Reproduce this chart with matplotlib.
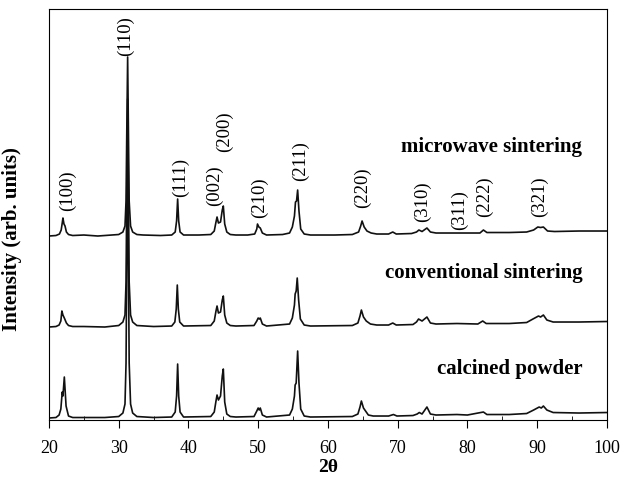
import matplotlib
matplotlib.use("Agg")
import matplotlib.pyplot as plt
from matplotlib.ticker import MultipleLocator

plt.rcParams["font.family"] = ["Liberation Serif", "DejaVu Serif"]

# 2-theta / intensity pairs (intensity above each pattern's own baseline)
micro_2t = [20.0, 21.0, 21.5, 21.75, 21.9, 22.0, 22.15, 22.3, 22.5, 22.8, 23.4, 25.0, 27.0, 29.0, 30.0,
            30.6, 30.9, 31.05, 31.15, 31.28, 31.4, 31.5, 31.7, 32.0, 32.6, 33.5, 36.0, 37.6, 38.1, 38.3,
            38.45, 38.6, 38.8, 39.3, 41.5, 43.2, 43.7, 43.95, 44.1, 44.3, 44.6, 44.85, 45.0, 45.2, 45.5,
            46.0, 46.8, 48.5, 49.5, 49.8, 49.9, 50.1, 50.3, 50.6, 51.2, 53.5, 54.5, 54.9, 55.2, 55.35,
            55.5, 55.66, 55.85, 56.1, 56.6, 57.5, 61.0, 63.5, 64.4, 64.7, 64.9, 65.2, 65.6, 66.2, 67.0,
            68.7, 69.3, 69.8, 72.0, 72.7, 73.05, 73.5, 74.2, 74.7, 75.5, 78.5, 80.5, 81.8, 82.3, 82.8,
            86.0, 88.5, 89.5, 90.1, 90.5, 90.9, 91.5, 92.5, 96.0, 100.0]
micro_int = [0, 0.5, 2, 6, 13, 18, 12, 10, 4, 1.5, 0.5, 1, 0, 1, 1.5,
             4, 10, 35, 100, 179, 100, 35, 10, 4, 1.5, 1, 0.5, 1, 4, 15,
             37, 15, 4, 1, 1, 1.5, 5, 14, 19, 13, 14, 26, 30, 12, 4,
             1.5, 1, 1, 2, 7, 12, 9, 8, 3, 1, 1.5, 3, 9, 20, 34,
             35, 46, 25, 7, 2, 1, 1, 1.5, 4, 10, 15, 9, 5, 3, 2,
             2, 4, 2, 2.5, 4, 6, 4.5, 8, 4, 3, 3, 3, 3, 6, 3.5,
             3.5, 4, 6, 9, 8.5, 9, 5, 4.5, 5, 5]

conv_2t = [20.0, 21.0, 21.45, 21.7, 21.85, 22.0, 22.2, 22.5, 22.8, 23.4, 25.0, 28.0, 30.0, 30.6, 30.9,
           31.05, 31.15, 31.28, 31.4, 31.5, 31.7, 32.0, 32.6, 35.0, 37.6, 38.05, 38.25, 38.4, 38.55,
           38.75, 39.3, 43.2, 43.7, 43.95, 44.1, 44.3, 44.6, 44.85, 45.0, 45.2, 45.5, 46.0, 46.8, 49.4,
           49.8, 50.0, 50.15, 50.3, 50.6, 51.2, 54.5, 54.9, 55.2, 55.3, 55.45, 55.6, 55.8, 56.05, 56.6,
           57.5, 63.5, 64.3, 64.6, 64.8, 65.1, 65.5, 66.1, 67.0, 68.7, 69.3, 69.8, 72.2, 72.7, 73.0,
           73.5, 74.2, 74.7, 75.5, 78.5, 81.5, 82.2, 82.7, 86.0, 88.5, 89.4, 90.2, 90.5, 90.9, 91.4,
           92.3, 96.0, 100.0]
conv_int = [0, 0.5, 2, 6, 16, 12, 9, 4, 1.5, 0.5, 0.5, 0, 1.5, 5, 12,
            45, 130, 228, 130, 45, 12, 5, 1.5, 0.5, 1, 5, 18, 42, 18,
            5, 1, 1.5, 6, 16, 21, 14, 15, 27, 31, 12, 4, 1.5, 1, 1.5,
            6, 9, 8, 9, 3, 1, 3, 9, 22, 33, 36, 49, 27, 8, 2,
            1, 1.5, 4, 11, 17, 10, 6, 3, 2, 2, 4, 2, 2.5, 5, 8,
            6, 10, 4, 3, 3.5, 3, 6, 3.5, 3.5, 4.5, 8, 11, 10, 12, 7,
            5, 5, 5.5]

calc_2t = [20.0, 21.0, 21.45, 21.7, 21.9, 22.0, 22.2, 22.45, 22.8, 23.4, 25.0, 28.0, 30.0, 30.6, 30.9,
           31.05, 31.15, 31.28, 31.4, 31.5, 31.7, 32.0, 32.6, 35.0, 37.6, 38.1, 38.3, 38.45, 38.6,
           38.8, 39.3, 43.2, 43.7, 43.95, 44.1, 44.3, 44.6, 44.85, 45.0, 45.2, 45.5, 46.0, 46.8, 49.4,
           49.8, 50.0, 50.15, 50.3, 50.6, 51.2, 54.5, 54.9, 55.2, 55.3, 55.45, 55.66, 55.85, 56.1, 56.6,
           57.5, 63.5, 64.3, 64.6, 64.8, 65.1, 65.4, 65.8, 66.5, 68.7, 69.4, 69.9, 72.2, 72.8, 73.1,
           73.5, 74.2, 74.7, 75.5, 78.5, 80.0, 82.3, 82.8, 86.0, 88.5, 89.5, 90.3, 90.6, 90.9, 91.4,
           92.3, 96.0, 100.0]
calc_int = [0, 0.5, 3, 9, 26, 22, 41, 12, 2, 0.5, 0.5, 0.5, 1.5, 5, 14,
            55, 150, 267, 150, 55, 14, 5, 1.5, 0.5, 1, 6, 22, 54, 22,
            6, 1, 1.5, 6, 17, 23, 18, 22, 42, 49, 16, 4, 1.5, 1, 1.5,
            7, 10, 8, 10, 3, 1, 3, 9, 22, 33, 35, 67, 35, 9, 2,
            1, 1.5, 4, 11, 17, 10, 7, 3, 2, 2, 3.5, 2, 2.5, 4, 5.5,
            4, 11, 4, 3, 3.5, 3, 6, 3.5, 3.5, 4.5, 8, 11, 10, 12, 8,
            5.5, 5, 5.5]

# vertical offsets of the stacked patterns
offsets = {"micro": 184, "conv": 93, "calc": 2}

hkl_labels = ["(100)", "(110)", "(111)", "(002)", "(200)", "(210)", "(211)",
              "(220)", "(310)", "(311)", "(222)", "(321)"]
hkl_x = [22.7, 30.9, 38.8, 43.8, 45.2, 50.25, 56.0, 65.0, 73.5, 78.8, 82.5, 90.4]
hkl_y = [230, 385, 244, 235, 289, 223, 260, 233, 219, 211, 224, 224]

fig = plt.figure(figsize=(6.24, 4.81), dpi=100)
ax = fig.add_axes([0.0785, 0.1247, 0.894, 0.8545])

ax.plot(calc_2t, [v + offsets["calc"] for v in calc_int], color="#111111", lw=1.2)
ax.plot(conv_2t, [v + offsets["conv"] for v in conv_int], color="#111111", lw=1.2)
ax.plot(micro_2t, [v + offsets["micro"] for v in micro_int], color="#111111", lw=1.2)

for lab, x, y in zip(hkl_labels, hkl_x, hkl_y):
    ax.text(x, y, lab, rotation=90, ha="center", va="center", fontsize=13.5)

ax.text(96.5, 269, "microwave sintering", ha="right", va="baseline", fontsize=15, fontweight="bold")
ax.text(96.5, 143, "conventional sintering", ha="right", va="baseline", fontsize=15, fontweight="bold")
ax.text(96.5, 47, "calcined powder", ha="right", va="baseline", fontsize=15, fontweight="bold")

ax.set_xlim(20, 100)
ax.set_ylim(0, 411)
ax.xaxis.set_major_locator(MultipleLocator(10))
ax.xaxis.set_minor_locator(MultipleLocator(5))
ax.tick_params(axis="x", which="major", direction="out", length=6, labelsize=13, pad=8)
ax.tick_params(axis="x", which="minor", direction="in", length=3)
ax.set_yticks([])
ax.set_xlabel("2θ", fontsize=14, fontweight="bold", labelpad=1)
ax.set_ylabel("Intensity (arb. units)", fontsize=15, fontweight="bold")
ax.yaxis.set_label_coords(-0.048, 0.443)

fig.savefig("out.png", dpi=100)
